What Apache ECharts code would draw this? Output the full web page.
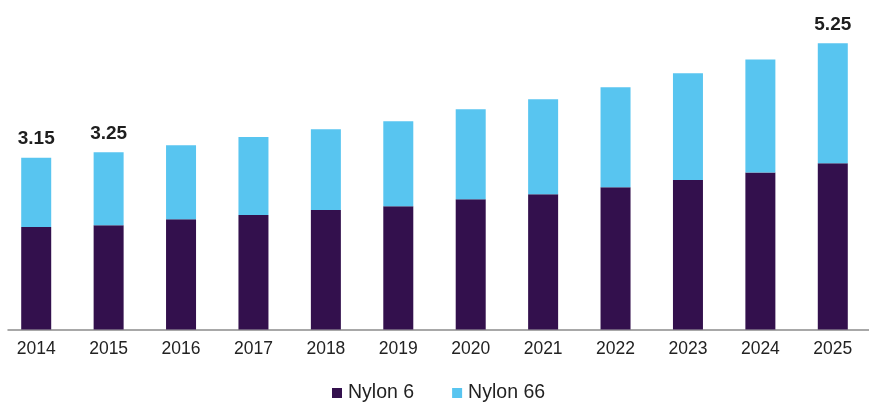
<!DOCTYPE html>
<html>
<head>
<meta charset="utf-8">
<script src="https://cdn.jsdelivr.net/npm/echarts@6/dist/echarts.min.js"></script>
<style>
  html, body { margin: 0; padding: 0; background: #ffffff; }
  #chart { width: 869px; height: 405px; }
</style>
</head>
<body>
<div id="chart"></div>
<script>
// Market volume by product, 2014-2025
var years = ['2014', '2015', '2016', '2017', '2018', '2019', '2020', '2021', '2022', '2023', '2024', '2025'];
var nylon6 = [1.88, 1.91, 2.02, 2.10, 2.19, 2.26, 2.39, 2.48, 2.61, 2.74, 2.88, 3.05];
var nylon66 = [1.27, 1.34, 1.36, 1.43, 1.48, 1.56, 1.65, 1.74, 1.83, 1.96, 2.07, 2.20];
// Years whose stacked total is printed above the bar
var labelledYears = ['2014', '2015', '2025'];

var chart = echarts.init(document.getElementById('chart'), null, { renderer: 'canvas' });

var FONT = '"Liberation Sans", Arial, sans-serif';

chart.setOption({
  animation: false,
  backgroundColor: '#ffffff',
  grid: [
    { left: -1.5, right: -9.5, top: 29.5, bottom: 75.5, containLabel: false },
    { left: 8, right: 0, top: 29.5, bottom: 75.5, containLabel: false }
  ],
  legend: {
    top: 378,
    left: 327,
    itemWidth: 10,
    itemHeight: 10,
    itemGap: 38,
    icon: 'rect',
    textStyle: { fontFamily: FONT, fontSize: 19.5, color: '#222222', padding: [0, 0, 0, 1] },
    data: ['Nylon 6', 'Nylon 66']
  },
  xAxis: [
    {
      type: 'category',
      gridIndex: 0,
      data: years,
      axisLine: { show: false },
      axisTick: { show: false },
      axisLabel: { fontFamily: FONT, fontSize: 17.5, color: '#222222', margin: 11 }
    },
    {
      type: 'category',
      gridIndex: 1,
      data: years,
      axisLine: { show: true, lineStyle: { color: '#8c8c8c', width: 1.5 } },
      axisTick: { show: false },
      axisLabel: { show: false }
    }
  ],
  yAxis: [
    { type: 'value', gridIndex: 0, min: 0, max: 5.5, show: false, splitLine: { show: false } },
    { type: 'value', gridIndex: 1, min: 0, max: 5.5, show: false, splitLine: { show: false } }
  ],
  series: [
    {
      name: 'Nylon 6',
      type: 'bar',
      stack: 'total',
      barWidth: 30,
      itemStyle: { color: '#33104d' },
      data: nylon6
    },
    {
      name: 'Nylon 66',
      type: 'bar',
      stack: 'total',
      barWidth: 30,
      itemStyle: { color: '#58c5f0' },
      data: nylon66,
      label: {
        show: true,
        position: 'top',
        distance: 9,
        fontFamily: FONT,
        fontWeight: 'bold',
        fontSize: 19,
        color: '#1e1e1e',
        formatter: function (p) {
          if (labelledYears.indexOf(p.name) < 0) return '';
          var total = nylon6[p.dataIndex] + nylon66[p.dataIndex];
          return total.toFixed(2);
        }
      }
    }
  ]
});
</script>
</body>
</html>
